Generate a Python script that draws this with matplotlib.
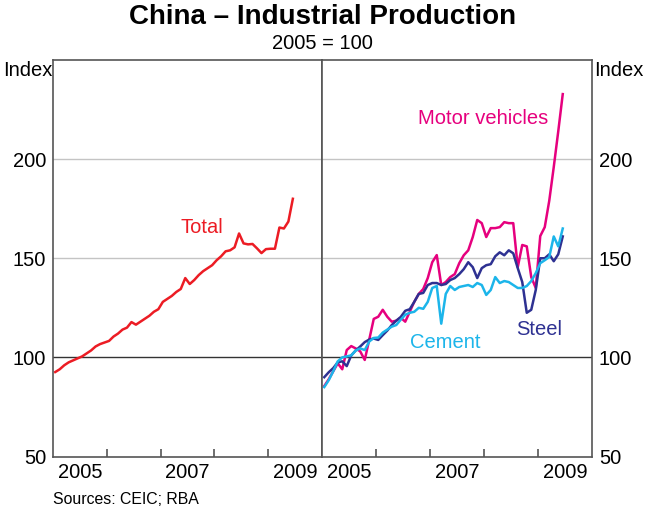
import matplotlib.pyplot as plt
import numpy as np

plt.rcParams["font.family"] = ["Liberation Sans", "DejaVu Sans"]

# --- Data: monthly index, Jan 2005 - Jun 2009 (2005 = 100) ---
total = [92.6, 94, 96, 97.5, 98.5, 99.5, 100.5, 102, 103.5, 105.5, 106.7, 107.5,
         108.3, 110.5, 112, 114, 115, 117.8, 116.5, 118, 119.5, 121, 123, 124.3,
         128, 129.5, 131, 133, 134.5, 140, 137, 139, 141.5, 143.5, 145, 146.5,
         149, 151, 153.5, 154, 155.5, 162.5, 157.5, 157, 157.2, 155, 152.6, 154.6,
         154.8, 154.8, 165.5, 165, 168.5, 180]
motor = [85.5, 89, 93, 97, 94, 103.7, 105.7, 104.5, 103, 98.7, 109, 119.4,
         120.5, 124, 120.5, 118, 118.5, 120, 118, 123, 128, 132, 134.5, 140,
         148, 151.6, 136.5, 138, 140.5, 142, 147.5, 151.5, 154, 160.7, 169.3, 167.7,
         160.7, 165.2, 165.2, 165.7, 168.2, 167.7, 167.7, 145.5, 156.7, 156, 140.5, 135,
         161.2, 165.7, 179, 196, 214, 232.8]
steel = [90, 92.5, 94.6, 97.5, 98, 95.6, 101, 103.5, 105.5, 107.7, 109, 109.5,
         108.8, 111.2, 113.5, 116.3, 118.5, 120.4, 123.5, 124.3, 128, 132, 132.5, 136.5,
         137.5, 137.5, 136.5, 137, 139, 140, 142, 144.5, 148, 145.5, 140, 145,
         146.5, 147, 151, 153, 151.5, 154, 152.5, 145, 138, 122.5, 124, 134,
         150, 150, 152, 148.5, 152, 161]
cement = [85, 88.5, 93, 98, 100, 100.5, 101, 103.5, 104.5, 103.7, 108, 109.8,
          110, 112.5, 114, 115.5, 116.3, 119, 121.5, 122.5, 123, 125, 124.5, 128,
          135, 136, 117, 132, 136, 134, 135.5, 136, 136.5, 135.5, 137.5, 136.5,
          131.5, 134, 140.5, 137.5, 138.5, 138, 136.5, 135, 135, 136, 138.5, 142.5,
          147.5, 149, 150.6, 161, 156, 165]

months = 2005 + (np.arange(len(total)) + 0.5) / 12

year_ticks = [2006, 2007, 2008, 2009]
label_pos = [2005.5, 2007.5, 2009.5]
label_txt = ["2005", "2007", "2009"]
y_ticks = [50, 100, 150, 200]

RED = "#EC1C24"
MAGENTA = "#E6007E"
NAVY = "#2E3192"
CYAN = "#1CB5EA"
FRAME = "#555555"
FS = 14.5

fig = plt.figure(figsize=(6.45, 5.11), dpi=100)
x0, x1 = 53 / 645, 592 / 645
xm = 322 / 645
y0, y1 = (511 - 456.5) / 511, (511 - 60) / 511
ax1 = fig.add_axes([x0, y0, xm - x0, y1 - y0])
ax2 = fig.add_axes([xm, y0, x1 - xm, y1 - y0])


def style(ax, right=False):
    ax.set_xlim(2005, 2010)
    ax.set_ylim(50, 250)
    for s in ax.spines.values():
        s.set_color(FRAME)
        s.set_linewidth(1.2)
    for v in [150, 200]:
        ax.axhline(v, color="#C4C4C4", linewidth=1, zorder=0)
    ax.axhline(100, color="#333333", linewidth=1, zorder=1)
    ax.set_xticks(year_ticks, minor=True)
    ax.set_xticks(label_pos)
    ax.set_xticklabels(label_txt, fontsize=FS)
    ax.tick_params(axis="x", which="major", length=0, pad=5)
    ax.tick_params(axis="x", which="minor", direction="in", length=6,
                   color=FRAME, width=1.2)
    ax.set_yticks(y_ticks)
    ax.set_yticklabels([str(v) for v in y_ticks], fontsize=FS)
    if right:
        ax.yaxis.tick_right()
    ax.tick_params(axis="y", length=0, pad=5)


style(ax1)
style(ax2, right=True)

ax1.plot(months, total, color=RED, linewidth=1.8)
ax1.text(2007.76, 165.5, "Total", color=RED, fontsize=FS, ha="center", va="center")

ax2.plot(months, motor, color=MAGENTA, linewidth=1.8)
ax2.plot(months, steel, color=NAVY, linewidth=1.8)
ax2.plot(months, cement, color=CYAN, linewidth=1.8)
ax2.text(2007.98, 220.5, "Motor vehicles", color=MAGENTA, fontsize=FS,
         ha="center", va="center")
ax2.text(2007.28, 107.5, "Cement", color=CYAN, fontsize=FS, ha="center", va="center")
ax2.text(2009.03, 114, "Steel", color=NAVY, fontsize=FS, ha="center", va="center")

fig.text(0.5, 1 - 17 / 511, "China \u2013 Industrial Production", fontsize=20,
         fontweight="bold", ha="center", va="center")
fig.text(0.5, 1 - 43 / 511, "2005 = 100", fontsize=14.5, ha="center", va="center")
fig.text(3 / 645, 1 - 70 / 511, "Index", fontsize=FS, ha="left", va="center")
fig.text(643 / 645, 1 - 70 / 511, "Index", fontsize=FS, ha="right", va="center")
fig.text(53 / 645, 1 - 499 / 511, "Sources: CEIC; RBA", fontsize=11.4,
         ha="left", va="center")

fig.savefig("out.png", dpi=100)
